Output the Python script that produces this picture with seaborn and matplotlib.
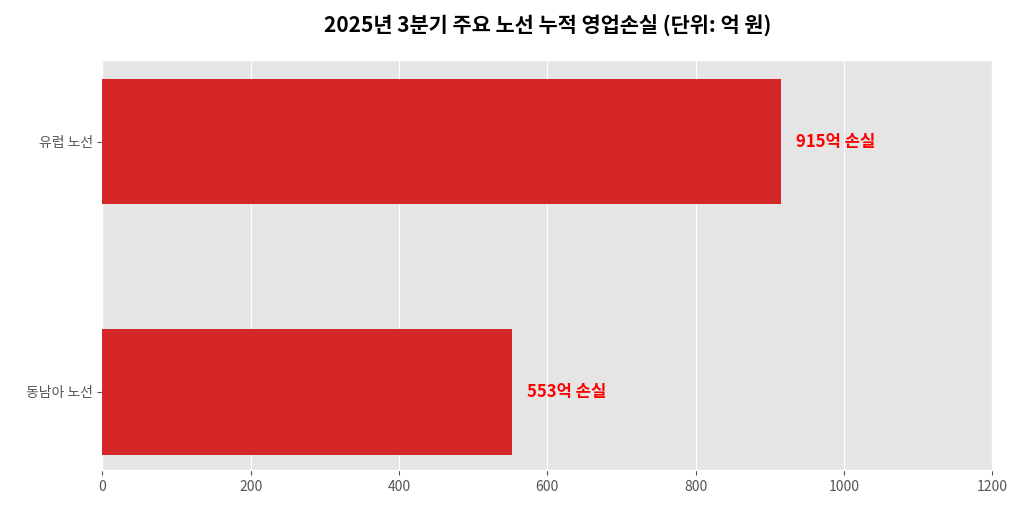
import matplotlib
matplotlib.use("Agg")
import matplotlib.pyplot as plt
import seaborn as sns
import pandas as pd

# 노선별 누적 영업손실 (억 원)
routes = ["유럽 노선", "동남아 노선"]
losses = [915, 553]
labels = ["915억 손실", "553억 손실"]

df = pd.DataFrame({"route": routes, "loss": losses})

plt.style.use("ggplot")
plt.rcParams["font.family"] = ["Noto Sans CJK KR", "DejaVu Sans"]

fig, ax = plt.subplots(figsize=(10.24, 5.12), dpi=100)
sns.barplot(data=df, x="loss", y="route", color="#d62728", saturation=1,
            width=0.5, ax=ax, zorder=3)
ax.set_axisbelow(True)

for i, (v, t) in enumerate(zip(losses, labels)):
    ax.text(v + 20, i, t, color="red", fontweight="bold", fontsize=12,
            va="center", ha="left")

ax.set_xlim(0, 1200)
ax.set_ylim(1.312, -0.328)
ax.set_xlabel("")
ax.set_ylabel("")
ax.tick_params(labelsize=10, colors="#555555")
ax.set_title("2025년 3분기 주요 노선 누적 영업손실 (단위: 억 원)",
             fontsize=15, fontweight="bold", pad=20)

fig.subplots_adjust(left=0.1, right=0.969, top=0.883, bottom=0.082)
fig.savefig("out.png", dpi=100)
